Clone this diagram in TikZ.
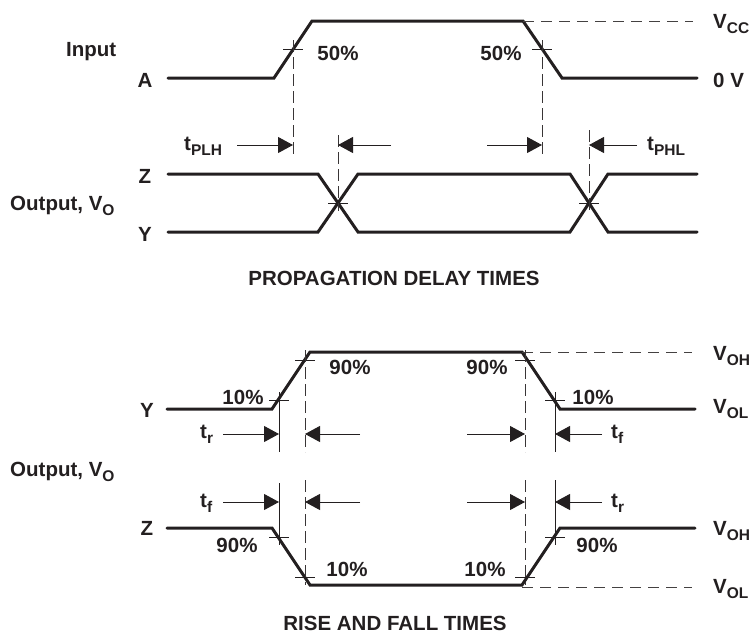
\documentclass[tikz,border=0pt]{standalone}
\usepackage{fontspec}
\setmainfont{Liberation Sans}
\usetikzlibrary{arrows.meta}
\definecolor{ink}{HTML}{231F20}
\newcommand{\subtxt}[1]{\raisebox{-5pt}{\fontsize{15.5}{16}\selectfont #1}}
\begin{document}
\begin{tikzpicture}[x=1pt,y=-1pt,
  font=\bfseries\fontsize{20.5}{24}\selectfont, text=ink,
  wave/.style={draw=ink,line width=3pt,line cap=round,line join=miter},
  tick/.style={draw=ink,line width=0.9pt},
  dashln/.style={draw=ink!85,line width=1pt,dash pattern=on 11pt off 7pt},
  vdash/.style={draw=ink!90,line width=0.9pt,dash pattern=on 12pt off 5pt},
  arr/.style={draw=ink,line width=1pt,-{Triangle[length=15pt 0 0,width=16pt 0 0]}},
  lbl/.style={inner sep=0pt,anchor=base west},
  lblc/.style={inner sep=0pt,anchor=base}]
\useasboundingbox (0,0) rectangle (753,635);

% ---------------- PROPAGATION DELAY TIMES ----------------
\draw[wave] (168,78) -- (274,78) -- (312,21) -- (523,21) -- (562,78) -- (697,78);
\draw[dashln] (523,21) -- (693,21);
\draw[wave] (168,174) -- (318,174) -- (358,232) -- (570,232) -- (608,174) -- (697,174);
\draw[wave] (168,232) -- (318,232) -- (358,174) -- (570,174) -- (608,232) -- (697,232);

% crosshairs
\draw[tick] (283,49.5) -- (303,49.5);
\draw[tick] (532,49.5) -- (552,49.5);
\draw[tick] (328,203) -- (348,203);
\draw[tick] (579,203) -- (599,203);
% vertical references
\draw[vdash] (293,40) -- (293,158);
\draw[vdash] (542,40) -- (542,155);
\draw[vdash] (338,135) -- (338,211);
\draw[vdash] (589,130) -- (589,210);

% arrows
\coordinate (p1s) at (237,145); \coordinate (p1e) at (293,145);
\coordinate (p2s) at (391,145); \coordinate (p2e) at (338,145);
\coordinate (p3s) at (487,145); \coordinate (p3e) at (542,145);
\coordinate (p4s) at (637,145); \coordinate (p4e) at (589,145);
\draw[arr] (p1s) -- (p1e);
\draw[arr] (p2s) -- (p2e);
\draw[arr] (p3s) -- (p3e);
\draw[arr] (p4s) -- (p4e);

% labels
\node[lbl]  (input) at (66,56) {Input};
\node[lblc] (la)    at (145,87) {A};
\node[lblc] (p50a)  at (338,60) {50\%};
\node[lblc] (p50b)  at (501,60) {50\%};
\node[lbl]  (vcc)   at (713,28) {V\subtxt{CC}};
\node[lbl]  (zerov) at (713,87) {0 V};
\node[lbl]  (tplh)  at (184,150) {t\subtxt{PLH}};
\node[lbl]  (tphl)  at (647,150) {t\subtxt{PHL}};
\node[lblc] (lz1)   at (145,183) {Z};
\node[lblc] (ly1)   at (145,241) {Y};
\node[lbl]  (out1)  at (10,210) {Output, V\subtxt{O}};
\node[lblc] (title1) at (394,285) {PROPAGATION DELAY TIMES};

% ---------------- RISE AND FALL TIMES ----------------
\draw[wave] (167,409) -- (272,409) -- (310,352) -- (522,352) -- (560,409) -- (695,409);
\draw[dashln] (522,352) -- (692,352);
\draw[wave] (167,528) -- (272,528) -- (310,585) -- (522,585) -- (560,528) -- (695,528);
\draw[dashln] (522,587) -- (692,587);

% crosshairs
\draw[tick] (269,400) -- (289,400);
\draw[tick] (295,360) -- (315,360);
\draw[tick] (515,360) -- (535,360);
\draw[tick] (545,400) -- (565,400);
\draw[tick] (269,537) -- (289,537);
\draw[tick] (295,577) -- (315,577);
\draw[tick] (515,577) -- (535,577);
\draw[tick] (545,537) -- (565,537);

% vertical references
\draw[tick]  (279,392) -- (279,452);
\draw[vdash] (305,350) -- (305,452);
\draw[vdash] (525,350) -- (525,452);
\draw[tick]  (555,392) -- (555,452);
\draw[tick]  (279,483) -- (279,545);
\draw[vdash] (305,480) -- (305,585);
\draw[vdash] (525,480) -- (525,585);
\draw[tick]  (555,480) -- (555,545);

% arrows
\coordinate (r1s) at (223,434); \coordinate (r1e) at (279,434);
\coordinate (r2s) at (360,434); \coordinate (r2e) at (305,434);
\coordinate (r3s) at (467,434); \coordinate (r3e) at (525,434);
\coordinate (r4s) at (602,434); \coordinate (r4e) at (555,434);
\coordinate (s1s) at (223,502); \coordinate (s1e) at (279,502);
\coordinate (s2s) at (360,502); \coordinate (s2e) at (305,502);
\coordinate (s3s) at (467,502); \coordinate (s3e) at (525,502);
\coordinate (s4s) at (602,502); \coordinate (s4e) at (555,502);
\draw[arr] (r1s) -- (r1e);
\draw[arr] (r2s) -- (r2e);
\draw[arr] (r3s) -- (r3e);
\draw[arr] (r4s) -- (r4e);
\draw[arr] (s1s) -- (s1e);
\draw[arr] (s2s) -- (s2e);
\draw[arr] (s3s) -- (s3e);
\draw[arr] (s4s) -- (s4e);

% labels
\node[lblc] (ly2)  at (147,417) {Y};
\node[lbl]  (tr1)  at (200,438) {t\subtxt{r}};
\node[lblc] (q10a) at (243,404) {10\%};
\node[lblc] (q90a) at (350,374) {90\%};
\node[lblc] (q90b) at (487,374) {90\%};
\node[lblc] (q10b) at (593,404) {10\%};
\node[lbl]  (tf1)  at (611,438) {t\subtxt{f}};
\node[lbl]  (voh1) at (713,360) {V\subtxt{OH}};
\node[lbl]  (vol1) at (713,413) {V\subtxt{OL}};
\node[lbl]  (out2) at (10,476) {Output, V\subtxt{O}};
\node[lbl]  (tf2)  at (200,507) {t\subtxt{f}};
\node[lblc] (lz2)  at (147,535) {Z};
\node[lblc] (q90c) at (237,552) {90\%};
\node[lblc] (q10c) at (347,576) {10\%};
\node[lblc] (q10d) at (485,576) {10\%};
\node[lblc] (q90d) at (597,552) {90\%};
\node[lbl]  (tr2)  at (611,507) {t\subtxt{r}};
\node[lbl]  (voh2) at (713,535) {V\subtxt{OH}};
\node[lbl]  (vol2) at (713,593) {V\subtxt{OL}};
\node[lblc] (title2) at (395,630) {RISE AND FALL TIMES};
\end{tikzpicture}
\end{document}
